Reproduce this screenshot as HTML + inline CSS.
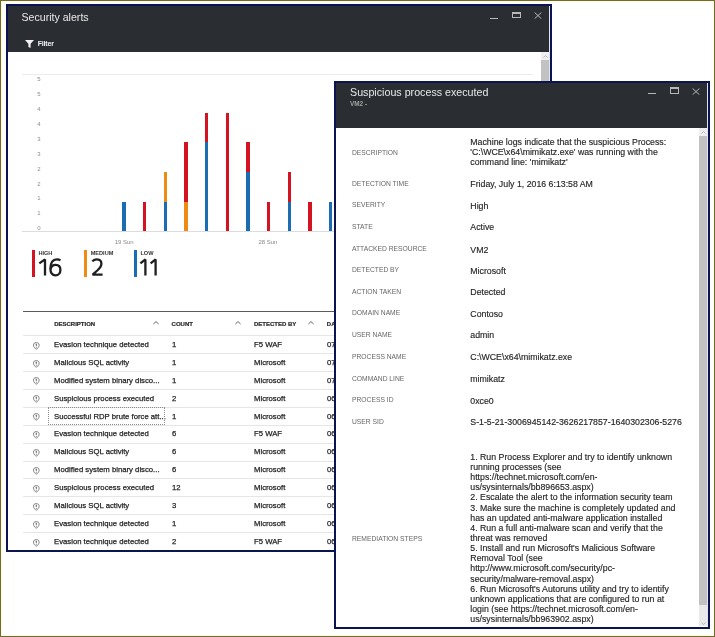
<!DOCTYPE html>
<html><head><meta charset="utf-8"><style>
*{margin:0;padding:0;box-sizing:border-box}
html,body{width:715px;height:637px;overflow:hidden;background:#fff;font-family:"Liberation Sans",sans-serif}
.a{position:absolute;white-space:nowrap}
#frame{position:absolute;left:0;top:0;width:715px;height:637px;border:1px solid #726b2a}
#frame2{position:absolute;left:1px;top:1px;width:713px;height:635px;border:1px solid #fbfbe4}
.panel{position:absolute;border:2px solid #0b1350;background:#fff;overflow:hidden;will-change:transform}
.hdr{position:absolute;left:0;top:0;right:0;background:#2a2e32}
.yl{font-size:6px;line-height:8px;color:#8c8c8c}
.bar{position:absolute;width:3.3px}
.r{background:#d31322}.o{background:#ec8c14}.b{background:#1a6cb3}
.sep{position:absolute;height:1px;background:#e8e8e8}
.rt{font-size:8px;color:#1e1e1e;line-height:10px;-webkit-text-stroke:0.25px #1e1e1e;transform:scaleX(0.965);transform-origin:0 0}
.th{font-size:6px;font-weight:bold;color:#2a2a2a;line-height:8px;-webkit-text-stroke:0.2px #2a2a2a}
.lbl{font-size:7.4px;color:#666;line-height:10px;transform:scaleX(0.91);transform-origin:0 0}
.val{font-size:8.78px;color:#262626;line-height:10px;-webkit-text-stroke:0.15px #262626}
</style></head><body>
<div id="frame"></div><div id="frame2"></div>
<div class="panel" style="left:6px;top:4px;width:546px;height:548px">
<div class="a" style="left:0.00px;top:0.00px;width:542.00px;height:46.00px;background:#2a2e32"></div>
<div class="a" style="left:541.00px;top:0.00px;width:1.00px;height:546.00px;background:#dfe6f2"></div>
<div class="a " style="left:13.50px;top:1.20px;font-size:10.6px;line-height:20px;color:#e8e8e8">Security alerts</div>
<div class="a" style="left:482.30px;top:11.60px;width:8.00px;height:1.10px;background:#b8b8b8"></div>
<div class="a" style="left:503.80px;top:5.80px;width:9.00px;height:6.70px;border:1px solid #b8b8b8;border-top-width:2px"></div>
<svg class="a" style="left:526px;top:6px" width="8" height="7" viewBox="0 0 8 7"><path d="M0.6 0.5L7.4 6.7M7.4 0.5L0.6 6.7" stroke="#b8b8b8" stroke-width="1"/></svg>
<svg class="a" style="left:17px;top:34px" width="9" height="8" viewBox="0 0 9 8"><path d="M0 0H9L5.6 3.8V8L3.4 6.9V3.8Z" fill="#f2f2f2"/></svg>
<div class="a " style="left:29.80px;top:33.00px;font-size:7px;font-weight:bold;letter-spacing:-0.2px;line-height:10px;color:#f2f2f2">Filter</div>
<div class="a" style="left:533.00px;top:46.00px;width:8.00px;height:8.00px;background:#f0f0f0"></div>
<div class="a" style="left:533.00px;top:54.00px;width:8.00px;height:30.00px;background:#c2c2c2"></div>
<svg class="a" style="left:535px;top:48.5px" width="5" height="3" viewBox="0 0 5 3"><path d="M0.5 2.5L2.5 0.5L4.5 2.5" stroke="#aaa" stroke-width="0.8" fill="none"/></svg>
<div class="a" style="left:14.00px;top:68.00px;width:511.00px;height:1.00px;background:#ececec"></div>
<div class="a" style="left:14.00px;top:225.00px;width:520.00px;height:1.00px;background:#dcdcdc"></div>
<div class="a yl" style="left:29.30px;top:69.20px;">5</div>
<div class="a yl" style="left:29.30px;top:84.10px;">5</div>
<div class="a yl" style="left:29.30px;top:99.00px;">4</div>
<div class="a yl" style="left:29.30px;top:113.90px;">4</div>
<div class="a yl" style="left:29.30px;top:128.80px;">3</div>
<div class="a yl" style="left:29.30px;top:143.70px;">3</div>
<div class="a yl" style="left:29.30px;top:158.60px;">2</div>
<div class="a yl" style="left:29.30px;top:173.50px;">2</div>
<div class="a yl" style="left:29.30px;top:188.40px;">1</div>
<div class="a yl" style="left:29.30px;top:203.30px;">1</div>
<div class="a yl" style="left:29.30px;top:218.20px;">0</div>
<div class="bar b" style="left:114.30px;top:195.80px;height:29.70px"></div>
<div class="bar r" style="left:134.98px;top:195.80px;height:29.70px"></div>
<div class="bar b" style="left:155.66px;top:195.80px;height:29.70px"></div>
<div class="bar o" style="left:155.66px;top:166.10px;height:29.70px"></div>
<div class="bar o" style="left:176.34px;top:195.80px;height:29.70px"></div>
<div class="bar r" style="left:176.34px;top:136.40px;height:59.40px"></div>
<div class="bar b" style="left:197.02px;top:136.40px;height:89.10px"></div>
<div class="bar r" style="left:197.02px;top:106.70px;height:29.70px"></div>
<div class="bar r" style="left:217.70px;top:106.70px;height:118.80px"></div>
<div class="bar b" style="left:238.38px;top:166.10px;height:59.40px"></div>
<div class="bar r" style="left:238.38px;top:136.40px;height:29.70px"></div>
<div class="bar r" style="left:259.06px;top:195.80px;height:29.70px"></div>
<div class="bar b" style="left:279.74px;top:195.80px;height:29.70px"></div>
<div class="bar r" style="left:279.74px;top:166.10px;height:29.70px"></div>
<div class="bar r" style="left:300.42px;top:195.80px;height:29.70px"></div>
<div class="bar b" style="left:321.10px;top:195.80px;height:29.70px"></div>
<div class="bar r" style="left:341.78px;top:195.80px;height:29.70px"></div>
<div class="bar b" style="left:362.46px;top:195.80px;height:29.70px"></div>
<div class="a yl" style="left:106.70px;top:232.00px;color:#8a8a8a">19 Sun</div>
<div class="a yl" style="left:250.40px;top:232.00px;color:#8a8a8a">28 Sun</div>
<div class="bar r" style="left:24.00px;top:244px;height:26.5px;width:3px"></div>
<div class="a " style="left:30.40px;top:242.80px;font-size:5.6px;font-weight:bold;line-height:8px;color:#333">HIGH</div>
<div class="bar o" style="left:76.30px;top:244px;height:26.5px;width:3px"></div>
<div class="a " style="left:82.70px;top:242.80px;font-size:5.6px;font-weight:bold;line-height:8px;color:#333">MEDIUM</div>
<div class="bar b" style="left:126.00px;top:244px;height:26.5px;width:3px"></div>
<div class="a " style="left:132.40px;top:242.80px;font-size:5.6px;font-weight:bold;line-height:8px;color:#333">LOW</div>
<svg class="a" style="left:-8px;top:-6px" width="715" height="637" viewBox="0 0 715 637"><g fill="none" stroke="#1f1f1f" stroke-width="2.3" stroke-linejoin="bevel" stroke-linecap="butt">
<path d="M39.3 263.4L45 259.4V275.6"/>
<path d="M60.4 260.5C59.5 259.7 58.3 259.3 57 259.3C52.6 259.3 50.4 263.4 50.4 268.6C50.4 273 52.5 275.4 55.5 275.4C58.5 275.4 60.4 273 60.4 270C60.4 267 58.6 264.9 55.7 264.9C52.9 264.9 50.9 266.9 50.6 269.6"/>
<path d="M92.3 261.4C93.3 260 94.8 259.3 96.7 259.3C99.6 259.3 101.4 261.1 101.4 263.7C101.4 266.4 99.8 268.2 97.3 270.5L92.6 274.6H102.6"/>
<path d="M140.4 263.4L145.4 259.4V275.6"/>
<path d="M150.6 263.4L155.6 259.4V275.6"/>
</g></svg>
<div class="a" style="left:14.50px;top:305.00px;width:520.00px;height:1.00px;background:#5a5a5a"></div>
<div class="a th" style="left:46.20px;top:314.00px;">DESCRIPTION</div>
<div class="a th" style="left:163.60px;top:314.00px;">COUNT</div>
<div class="a th" style="left:246.00px;top:314.00px;">DETECTED BY</div>
<div class="a th" style="left:318.80px;top:314.00px;">DATE</div>
<svg class="a" style="left:145.20px;top:314.6px" width="6" height="4" viewBox="0 0 6 4"><path d="M0.4 3.0L3 0.6L5.6 3.0" stroke="#555" stroke-width="0.9" fill="none"/></svg>
<svg class="a" style="left:227.00px;top:314.6px" width="6" height="4" viewBox="0 0 6 4"><path d="M0.4 3.0L3 0.6L5.6 3.0" stroke="#555" stroke-width="0.9" fill="none"/></svg>
<svg class="a" style="left:299.60px;top:314.6px" width="6" height="4" viewBox="0 0 6 4"><path d="M0.4 3.0L3 0.6L5.6 3.0" stroke="#555" stroke-width="0.9" fill="none"/></svg>
<div class="a" style="left:14.50px;top:329.20px;width:520.00px;height:1.00px;background:#e6e6e6"></div>
<svg class="a" style="left:24.80px;top:335.60px" width="7" height="8" viewBox="0 0 7 8"><path d="M3.3 0.6C1.4 0.6 0.5 1.5 0.5 3.1C0.5 5.2 2 6.5 3.3 7.1C4.6 6.5 6.1 5.2 6.1 3.1C6.1 1.5 5.2 0.6 3.3 0.6Z" fill="none" stroke="#6e6e6e" stroke-width="0.85"/><path d="M2.5 1.8H4.1L3.7 4.3H2.9Z" fill="#777"/><circle cx="3.3" cy="5.2" r="0.55" fill="#777"/></svg>
<div class="a rt" style="left:46.20px;top:333.90px;">Evasion technique detected</div>
<div class="a rt" style="left:163.60px;top:333.90px;">1</div>
<div class="a rt" style="left:246.00px;top:333.90px;">F5 WAF</div>
<div class="a rt" style="left:318.80px;top:333.90px;">07</div>
<div class="a" style="left:14.50px;top:347.10px;width:520.00px;height:1.00px;background:#e6e6e6"></div>
<svg class="a" style="left:24.80px;top:353.50px" width="7" height="8" viewBox="0 0 7 8"><path d="M3.3 0.6C1.4 0.6 0.5 1.5 0.5 3.1C0.5 5.2 2 6.5 3.3 7.1C4.6 6.5 6.1 5.2 6.1 3.1C6.1 1.5 5.2 0.6 3.3 0.6Z" fill="none" stroke="#6e6e6e" stroke-width="0.85"/><path d="M2.5 1.8H4.1L3.7 4.3H2.9Z" fill="#777"/><circle cx="3.3" cy="5.2" r="0.55" fill="#777"/></svg>
<div class="a rt" style="left:46.20px;top:351.80px;">Malicious SQL activity</div>
<div class="a rt" style="left:163.60px;top:351.80px;">1</div>
<div class="a rt" style="left:246.00px;top:351.80px;">Microsoft</div>
<div class="a rt" style="left:318.80px;top:351.80px;">07</div>
<div class="a" style="left:14.50px;top:365.00px;width:520.00px;height:1.00px;background:#e6e6e6"></div>
<svg class="a" style="left:24.80px;top:371.40px" width="7" height="8" viewBox="0 0 7 8"><path d="M3.3 0.6C1.4 0.6 0.5 1.5 0.5 3.1C0.5 5.2 2 6.5 3.3 7.1C4.6 6.5 6.1 5.2 6.1 3.1C6.1 1.5 5.2 0.6 3.3 0.6Z" fill="none" stroke="#6e6e6e" stroke-width="0.85"/><path d="M2.5 1.8H4.1L3.7 4.3H2.9Z" fill="#777"/><circle cx="3.3" cy="5.2" r="0.55" fill="#777"/></svg>
<div class="a rt" style="left:46.20px;top:369.70px;">Modified system binary disco...</div>
<div class="a rt" style="left:163.60px;top:369.70px;">1</div>
<div class="a rt" style="left:246.00px;top:369.70px;">Microsoft</div>
<div class="a rt" style="left:318.80px;top:369.70px;">07</div>
<div class="a" style="left:14.50px;top:382.90px;width:520.00px;height:1.00px;background:#e6e6e6"></div>
<svg class="a" style="left:24.80px;top:389.30px" width="7" height="8" viewBox="0 0 7 8"><path d="M3.3 0.6C1.4 0.6 0.5 1.5 0.5 3.1C0.5 5.2 2 6.5 3.3 7.1C4.6 6.5 6.1 5.2 6.1 3.1C6.1 1.5 5.2 0.6 3.3 0.6Z" fill="none" stroke="#6e6e6e" stroke-width="0.85"/><path d="M2.5 1.8H4.1L3.7 4.3H2.9Z" fill="#777"/><circle cx="3.3" cy="5.2" r="0.55" fill="#777"/></svg>
<div class="a rt" style="left:46.20px;top:387.60px;">Suspicious process executed</div>
<div class="a rt" style="left:163.60px;top:387.60px;">2</div>
<div class="a rt" style="left:246.00px;top:387.60px;">Microsoft</div>
<div class="a rt" style="left:318.80px;top:387.60px;">06</div>
<div class="a" style="left:14.50px;top:400.80px;width:520.00px;height:1.00px;background:#e6e6e6"></div>
<svg class="a" style="left:24.80px;top:407.20px" width="7" height="8" viewBox="0 0 7 8"><path d="M3.3 0.6C1.4 0.6 0.5 1.5 0.5 3.1C0.5 5.2 2 6.5 3.3 7.1C4.6 6.5 6.1 5.2 6.1 3.1C6.1 1.5 5.2 0.6 3.3 0.6Z" fill="none" stroke="#6e6e6e" stroke-width="0.85"/><path d="M2.5 1.8H4.1L3.7 4.3H2.9Z" fill="#777"/><circle cx="3.3" cy="5.2" r="0.55" fill="#777"/></svg>
<div class="a rt" style="left:46.20px;top:405.50px;">Successful RDP brute force att...</div>
<div class="a rt" style="left:163.60px;top:405.50px;">1</div>
<div class="a rt" style="left:246.00px;top:405.50px;">Microsoft</div>
<div class="a rt" style="left:318.80px;top:405.50px;">06</div>
<div class="a" style="left:14.50px;top:418.70px;width:520.00px;height:1.00px;background:#e6e6e6"></div>
<svg class="a" style="left:24.80px;top:425.10px" width="7" height="8" viewBox="0 0 7 8"><path d="M3.3 0.6C1.4 0.6 0.5 1.5 0.5 3.1C0.5 5.2 2 6.5 3.3 7.1C4.6 6.5 6.1 5.2 6.1 3.1C6.1 1.5 5.2 0.6 3.3 0.6Z" fill="none" stroke="#6e6e6e" stroke-width="0.85"/><path d="M2.5 1.8H4.1L3.7 4.3H2.9Z" fill="#777"/><circle cx="3.3" cy="5.2" r="0.55" fill="#777"/></svg>
<div class="a rt" style="left:46.20px;top:423.40px;">Evasion technique detected</div>
<div class="a rt" style="left:163.60px;top:423.40px;">6</div>
<div class="a rt" style="left:246.00px;top:423.40px;">F5 WAF</div>
<div class="a rt" style="left:318.80px;top:423.40px;">06</div>
<div class="a" style="left:14.50px;top:436.60px;width:520.00px;height:1.00px;background:#e6e6e6"></div>
<svg class="a" style="left:24.80px;top:443.00px" width="7" height="8" viewBox="0 0 7 8"><path d="M3.3 0.6C1.4 0.6 0.5 1.5 0.5 3.1C0.5 5.2 2 6.5 3.3 7.1C4.6 6.5 6.1 5.2 6.1 3.1C6.1 1.5 5.2 0.6 3.3 0.6Z" fill="none" stroke="#6e6e6e" stroke-width="0.85"/><path d="M2.5 1.8H4.1L3.7 4.3H2.9Z" fill="#777"/><circle cx="3.3" cy="5.2" r="0.55" fill="#777"/></svg>
<div class="a rt" style="left:46.20px;top:441.30px;">Malicious SQL activity</div>
<div class="a rt" style="left:163.60px;top:441.30px;">6</div>
<div class="a rt" style="left:246.00px;top:441.30px;">Microsoft</div>
<div class="a rt" style="left:318.80px;top:441.30px;">06</div>
<div class="a" style="left:14.50px;top:454.50px;width:520.00px;height:1.00px;background:#e6e6e6"></div>
<svg class="a" style="left:24.80px;top:460.90px" width="7" height="8" viewBox="0 0 7 8"><path d="M3.3 0.6C1.4 0.6 0.5 1.5 0.5 3.1C0.5 5.2 2 6.5 3.3 7.1C4.6 6.5 6.1 5.2 6.1 3.1C6.1 1.5 5.2 0.6 3.3 0.6Z" fill="none" stroke="#6e6e6e" stroke-width="0.85"/><path d="M2.5 1.8H4.1L3.7 4.3H2.9Z" fill="#777"/><circle cx="3.3" cy="5.2" r="0.55" fill="#777"/></svg>
<div class="a rt" style="left:46.20px;top:459.20px;">Modified system binary disco...</div>
<div class="a rt" style="left:163.60px;top:459.20px;">6</div>
<div class="a rt" style="left:246.00px;top:459.20px;">Microsoft</div>
<div class="a rt" style="left:318.80px;top:459.20px;">06</div>
<div class="a" style="left:14.50px;top:472.40px;width:520.00px;height:1.00px;background:#e6e6e6"></div>
<svg class="a" style="left:24.80px;top:478.80px" width="7" height="8" viewBox="0 0 7 8"><path d="M3.3 0.6C1.4 0.6 0.5 1.5 0.5 3.1C0.5 5.2 2 6.5 3.3 7.1C4.6 6.5 6.1 5.2 6.1 3.1C6.1 1.5 5.2 0.6 3.3 0.6Z" fill="none" stroke="#6e6e6e" stroke-width="0.85"/><path d="M2.5 1.8H4.1L3.7 4.3H2.9Z" fill="#777"/><circle cx="3.3" cy="5.2" r="0.55" fill="#777"/></svg>
<div class="a rt" style="left:46.20px;top:477.10px;">Suspicious process executed</div>
<div class="a rt" style="left:163.60px;top:477.10px;">12</div>
<div class="a rt" style="left:246.00px;top:477.10px;">Microsoft</div>
<div class="a rt" style="left:318.80px;top:477.10px;">06</div>
<div class="a" style="left:14.50px;top:490.30px;width:520.00px;height:1.00px;background:#e6e6e6"></div>
<svg class="a" style="left:24.80px;top:496.70px" width="7" height="8" viewBox="0 0 7 8"><path d="M3.3 0.6C1.4 0.6 0.5 1.5 0.5 3.1C0.5 5.2 2 6.5 3.3 7.1C4.6 6.5 6.1 5.2 6.1 3.1C6.1 1.5 5.2 0.6 3.3 0.6Z" fill="none" stroke="#6e6e6e" stroke-width="0.85"/><path d="M2.5 1.8H4.1L3.7 4.3H2.9Z" fill="#777"/><circle cx="3.3" cy="5.2" r="0.55" fill="#777"/></svg>
<div class="a rt" style="left:46.20px;top:495.00px;">Malicious SQL activity</div>
<div class="a rt" style="left:163.60px;top:495.00px;">3</div>
<div class="a rt" style="left:246.00px;top:495.00px;">Microsoft</div>
<div class="a rt" style="left:318.80px;top:495.00px;">06</div>
<div class="a" style="left:14.50px;top:508.20px;width:520.00px;height:1.00px;background:#e6e6e6"></div>
<svg class="a" style="left:24.80px;top:514.60px" width="7" height="8" viewBox="0 0 7 8"><path d="M3.3 0.6C1.4 0.6 0.5 1.5 0.5 3.1C0.5 5.2 2 6.5 3.3 7.1C4.6 6.5 6.1 5.2 6.1 3.1C6.1 1.5 5.2 0.6 3.3 0.6Z" fill="none" stroke="#6e6e6e" stroke-width="0.85"/><path d="M2.5 1.8H4.1L3.7 4.3H2.9Z" fill="#777"/><circle cx="3.3" cy="5.2" r="0.55" fill="#777"/></svg>
<div class="a rt" style="left:46.20px;top:512.90px;">Evasion technique detected</div>
<div class="a rt" style="left:163.60px;top:512.90px;">1</div>
<div class="a rt" style="left:246.00px;top:512.90px;">Microsoft</div>
<div class="a rt" style="left:318.80px;top:512.90px;">06</div>
<div class="a" style="left:14.50px;top:526.10px;width:520.00px;height:1.00px;background:#e6e6e6"></div>
<svg class="a" style="left:24.80px;top:532.50px" width="7" height="8" viewBox="0 0 7 8"><path d="M3.3 0.6C1.4 0.6 0.5 1.5 0.5 3.1C0.5 5.2 2 6.5 3.3 7.1C4.6 6.5 6.1 5.2 6.1 3.1C6.1 1.5 5.2 0.6 3.3 0.6Z" fill="none" stroke="#6e6e6e" stroke-width="0.85"/><path d="M2.5 1.8H4.1L3.7 4.3H2.9Z" fill="#777"/><circle cx="3.3" cy="5.2" r="0.55" fill="#777"/></svg>
<div class="a rt" style="left:46.20px;top:530.80px;">Evasion technique detected</div>
<div class="a rt" style="left:163.60px;top:530.80px;">2</div>
<div class="a rt" style="left:246.00px;top:530.80px;">F5 WAF</div>
<div class="a rt" style="left:318.80px;top:530.80px;">06</div>
<div class="a" style="left:40.00px;top:401.30px;width:117.00px;height:17.40px;border:1px dotted #8c8c8c"></div>
</div>
<div class="panel" style="left:334px;top:81px;width:376px;height:548px">
<div class="a" style="left:0.00px;top:0.00px;width:372.00px;height:45.00px;background:#2a2e32"></div>
<div class="a" style="left:371.00px;top:0.00px;width:1.00px;height:546.00px;background:#dfe6f2"></div>
<div class="a " style="left:14.00px;top:-0.80px;font-size:10.7px;line-height:20px;color:#e8e8e8">Suspicious process executed</div>
<div class="a " style="left:14.00px;top:17.00px;font-size:6.4px;font-weight:bold;line-height:8px;color:#a0a0a0">VM2 - </div>
<div class="a" style="left:312.20px;top:10.10px;width:8.00px;height:1.10px;background:#b8b8b8"></div>
<div class="a" style="left:333.80px;top:4.30px;width:9.00px;height:6.70px;border:1px solid #b8b8b8;border-top-width:2px"></div>
<svg class="a" style="left:356px;top:4.599999999999994px" width="8" height="7" viewBox="0 0 8 7"><path d="M0.6 0.5L7.4 6.7M7.4 0.5L0.6 6.7" stroke="#b8b8b8" stroke-width="1"/></svg>
<div class="a" style="left:363.00px;top:45.00px;width:8.00px;height:7.50px;background:#efefef"></div>
<div class="a" style="left:363.00px;top:52.50px;width:8.00px;height:469.50px;background:#c2c2c2"></div>
<div class="a" style="left:363.00px;top:522.00px;width:8.00px;height:21.00px;background:#e9e9e9"></div>
<svg class="a" style="left:365px;top:47.5px" width="5" height="3" viewBox="0 0 5 3"><path d="M0.5 2.5L2.5 0.5L4.5 2.5" stroke="#aaa" stroke-width="0.8" fill="none"/></svg>
<svg class="a" style="left:365px;top:538.5px" width="5" height="3" viewBox="0 0 5 3"><path d="M0.5 0.5L2.5 2.5L4.5 0.5" stroke="#aaa" stroke-width="0.8" fill="none"/></svg>
<div class="a lbl" style="left:15.50px;top:64.80px;">DESCRIPTION</div>
<div class="a val" style="left:134.30px;top:54.20px;">Machine logs indicate that the suspicious Process:</div>
<div class="a val" style="left:134.30px;top:64.34px;">&#x27;C:\WCE\x64\mimikatz.exe&#x27; was running with the</div>
<div class="a val" style="left:134.30px;top:74.48px;">command line: &#x27;mimikatz&#x27;</div>
<div class="a lbl" style="left:15.50px;top:96.10px;">DETECTION TIME</div>
<div class="a val" style="left:134.30px;top:96.30px;">Friday, July 1, 2016 6:13:58 AM</div>
<div class="a lbl" style="left:15.50px;top:117.10px;">SEVERITY</div>
<div class="a val" style="left:134.30px;top:118.10px;">High</div>
<div class="a lbl" style="left:15.50px;top:138.90px;">STATE</div>
<div class="a val" style="left:134.30px;top:139.00px;">Active</div>
<div class="a lbl" style="left:15.50px;top:160.50px;">ATTACKED RESOURCE</div>
<div class="a val" style="left:134.30px;top:161.50px;">VM2</div>
<div class="a lbl" style="left:15.50px;top:182.30px;">DETECTED BY</div>
<div class="a val" style="left:134.30px;top:182.60px;">Microsoft</div>
<div class="a lbl" style="left:15.50px;top:204.00px;">ACTION TAKEN</div>
<div class="a val" style="left:134.30px;top:204.10px;">Detected</div>
<div class="a lbl" style="left:15.50px;top:225.40px;">DOMAIN NAME</div>
<div class="a val" style="left:134.30px;top:225.50px;">Contoso</div>
<div class="a lbl" style="left:15.50px;top:247.20px;">USER NAME</div>
<div class="a val" style="left:134.30px;top:247.40px;">admin</div>
<div class="a lbl" style="left:15.50px;top:269.00px;">PROCESS NAME</div>
<div class="a val" style="left:134.30px;top:269.20px;">C:\WCE\x64\mimikatz.exe</div>
<div class="a lbl" style="left:15.50px;top:290.70px;">COMMAND LINE</div>
<div class="a val" style="left:134.30px;top:290.60px;">mimikatz</div>
<div class="a lbl" style="left:15.50px;top:312.10px;">PROCESS ID</div>
<div class="a val" style="left:134.30px;top:312.50px;">0xce0</div>
<div class="a lbl" style="left:15.50px;top:333.60px;">USER SID</div>
<div class="a val" style="left:134.30px;top:334.30px;">S-1-5-21-3006945142-3626217857-1640302306-5276</div>
<div class="a lbl" style="left:15.50px;top:451.30px;">REMEDIATION STEPS</div>
<div class="a val" style="left:134.30px;top:368.90px;">1. Run Process Explorer and try to identify unknown</div>
<div class="a val" style="left:134.30px;top:379.04px;">running processes (see</div>
<div class="a val" style="left:134.30px;top:389.18px;">https://technet.microsoft.com/en-</div>
<div class="a val" style="left:134.30px;top:399.32px;">us/sysinternals/bb896653.aspx)</div>
<div class="a val" style="left:134.30px;top:409.46px;">2. Escalate the alert to the information security team</div>
<div class="a val" style="left:134.30px;top:419.60px;">3. Make sure the machine is completely updated and</div>
<div class="a val" style="left:134.30px;top:429.74px;">has an updated anti-malware application installed</div>
<div class="a val" style="left:134.30px;top:439.88px;">4. Run a full anti-malware scan and verify that the</div>
<div class="a val" style="left:134.30px;top:450.02px;">threat was removed</div>
<div class="a val" style="left:134.30px;top:460.16px;">5. Install and run Microsoft&#x27;s Malicious Software</div>
<div class="a val" style="left:134.30px;top:470.30px;">Removal Tool (see</div>
<div class="a val" style="left:134.30px;top:480.44px;">http://www.microsoft.com/security/pc-</div>
<div class="a val" style="left:134.30px;top:490.58px;">security/malware-removal.aspx)</div>
<div class="a val" style="left:134.30px;top:500.72px;">6. Run Microsoft&#x27;s Autoruns utility and try to identify</div>
<div class="a val" style="left:134.30px;top:510.86px;">unknown applications that are configured to run at</div>
<div class="a val" style="left:134.30px;top:521.00px;">login (see https://technet.microsoft.com/en-</div>
<div class="a val" style="left:134.30px;top:531.14px;">us/sysinternals/bb963902.aspx)</div>
</div>
</body></html>
